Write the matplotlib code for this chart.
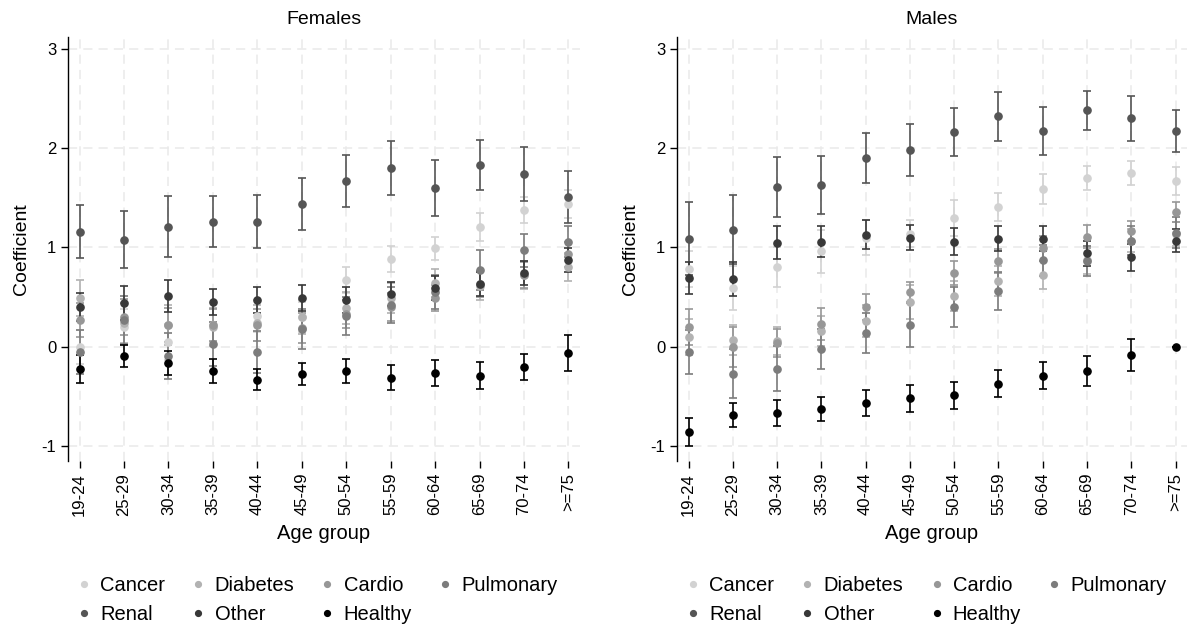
import numpy as np
import matplotlib
matplotlib.use("Agg")
import matplotlib.pyplot as plt

plt.rcParams['font.family'] = ['Liberation Sans', 'DejaVu Sans']

age_groups = ["19-24", "25-29", "30-34", "35-39", "40-44", "45-49",
              "50-54", "55-59", "60-64", "65-69", "70-74", ">=75"]
series_names = ["Cancer", "Diabetes", "Cardio", "Pulmonary", "Renal", "Other", "Healthy"]
series_colors = ["#d2d2d2", "#b2b2b2", "#979797", "#7c7c7c", "#555555", "#383838", "#000000"]

# Females: coefficients and CI half-widths
f_cancer = [0.00, 0.20, 0.05, 0.22, 0.31, 0.30, 0.67, 0.88, 0.99, 1.21, 1.38, 1.44]
f_diabetes = [0.49, 0.24, 0.22, 0.20, 0.24, 0.30, 0.39, 0.49, 0.64, 0.61, 0.72, 0.80]
f_cardio = [0.27, 0.30, 0.22, 0.22, 0.22, 0.19, 0.33, 0.40, 0.49, 0.63, 0.72, 0.93]
f_pulmonary = [-0.05, 0.27, -0.09, 0.03, -0.05, 0.18, 0.31, 0.42, 0.55, 0.77, 0.97, 1.06]
f_renal = [1.16, 1.08, 1.21, 1.26, 1.26, 1.44, 1.67, 1.80, 1.60, 1.83, 1.74, 1.51]
f_other = [0.40, 0.44, 0.51, 0.45, 0.47, 0.49, 0.47, 0.53, 0.59, 0.63, 0.74, 0.87]
f_healthy = [-0.22, -0.09, -0.16, -0.24, -0.33, -0.27, -0.24, -0.31, -0.26, -0.29, -0.20, -0.06]

f_cancer_err = [0.17, 0.18, 0.18, 0.17, 0.16, 0.15, 0.13, 0.13, 0.12, 0.14, 0.13, 0.14]
f_diabetes_err = [0.18, 0.20, 0.20, 0.19, 0.18, 0.17, 0.16, 0.15, 0.14, 0.14, 0.14, 0.14]
f_cardio_err = [0.17, 0.18, 0.17, 0.16, 0.16, 0.15, 0.14, 0.14, 0.13, 0.13, 0.13, 0.13]
f_pulmonary_err = [0.22, 0.24, 0.23, 0.22, 0.21, 0.20, 0.19, 0.18, 0.17, 0.20, 0.17, 0.16]
f_renal_err = [0.27, 0.29, 0.31, 0.26, 0.27, 0.26, 0.26, 0.27, 0.28, 0.25, 0.27, 0.26]
f_other_err = [0.14, 0.17, 0.16, 0.13, 0.13, 0.13, 0.13, 0.12, 0.12, 0.12, 0.12, 0.12]
f_healthy_err = [0.14, 0.11, 0.12, 0.12, 0.11, 0.11, 0.12, 0.13, 0.13, 0.14, 0.13, 0.18]

# Males: coefficients and CI half-widths
m_cancer = [0.78, 0.59, 0.80, 0.96, 1.10, 1.14, 1.30, 1.41, 1.59, 1.70, 1.75, 1.67]
m_diabetes = [0.10, 0.07, 0.06, 0.16, 0.26, 0.45, 0.51, 0.66, 0.72, 0.87, 1.07, 1.14]
m_cardio = [0.20, 0.00, 0.04, 0.23, 0.40, 0.55, 0.74, 0.86, 0.99, 1.11, 1.17, 1.36]
m_pulmonary = [-0.05, -0.27, -0.22, -0.02, 0.14, 0.22, 0.40, 0.56, 0.87, 0.86, 1.07, 1.15]
m_renal = [1.09, 1.18, 1.61, 1.63, 1.90, 1.98, 2.16, 2.32, 2.17, 2.38, 2.30, 2.17]
m_other = [0.69, 0.68, 1.05, 1.06, 1.13, 1.10, 1.06, 1.09, 1.09, 0.94, 0.90, 1.07]
m_healthy = [-0.86, -0.69, -0.67, -0.63, -0.57, -0.52, -0.49, -0.37, -0.29, -0.24, -0.08, 0.00]

m_cancer_err = [0.18, 0.22, 0.20, 0.22, 0.18, 0.14, 0.18, 0.14, 0.15, 0.12, 0.12, 0.14]
m_diabetes_err = [0.18, 0.15, 0.14, 0.15, 0.16, 0.17, 0.15, 0.15, 0.14, 0.14, 0.12, 0.12]
m_cardio_err = [0.18, 0.20, 0.14, 0.16, 0.13, 0.10, 0.12, 0.12, 0.13, 0.12, 0.10, 0.10]
m_pulmonary_err = [0.22, 0.25, 0.23, 0.20, 0.20, 0.22, 0.20, 0.19, 0.16, 0.15, 0.15, 0.16]
m_renal_err = [0.37, 0.35, 0.30, 0.29, 0.25, 0.26, 0.24, 0.25, 0.24, 0.20, 0.23, 0.21]
m_other_err = [0.16, 0.17, 0.17, 0.16, 0.15, 0.13, 0.14, 0.13, 0.13, 0.13, 0.14, 0.12]
m_healthy_err = [0.14, 0.12, 0.13, 0.12, 0.13, 0.14, 0.14, 0.14, 0.14, 0.15, 0.16, 0.00]

females = [f_cancer, f_diabetes, f_cardio, f_pulmonary, f_renal, f_other, f_healthy]
females_err = [f_cancer_err, f_diabetes_err, f_cardio_err, f_pulmonary_err,
               f_renal_err, f_other_err, f_healthy_err]
males = [m_cancer, m_diabetes, m_cardio, m_pulmonary, m_renal, m_other, m_healthy]
males_err = [m_cancer_err, m_diabetes_err, m_cardio_err, m_pulmonary_err,
             m_renal_err, m_other_err, m_healthy_err]

fig = plt.figure(figsize=(11.9, 6.27), dpi=100)
ax_f = fig.add_axes([0.0571, 0.2648, 0.4303, 0.6762])
ax_m = fig.add_axes([0.5689, 0.2648, 0.4286, 0.6762])

x = np.arange(len(age_groups))


def draw_panel(ax, data, errs, title):
    handles = []
    for vals, err, col, name in zip(data, errs, series_colors, series_names):
        ax.errorbar(x, vals, yerr=err, fmt="none", ecolor=col, elinewidth=1.2,
                    capsize=2.6, capthick=1.2, zorder=3)
        h, = ax.plot(x, vals, "o", color=col, markersize=5.2, zorder=4,
                     linestyle="none", label=name)
        handles.append(h)
    ax.set_xlim(-0.26, 11.26)
    ax.set_ylim(-1.15, 3.12)
    ax.set_yticks([-1, 0, 1, 2, 3])
    ax.set_yticklabels(["-1", "0", "1", "2", "3"])
    ax.set_xticks(x)
    ax.set_xticklabels(age_groups, rotation=90)
    ax.grid(True, color="#eaeaea", linestyle=(0, (6, 4)), linewidth=1.1, zorder=0)
    ax.set_axisbelow(True)
    for s in ["top", "right", "bottom"]:
        ax.spines[s].set_visible(False)
    ax.spines["left"].set_linewidth(1.0)
    ax.tick_params(axis="y", labelsize=12, length=5, width=1.0)
    ax.tick_params(axis="x", labelsize=12, length=5, width=1.0, color="#000000")
    ax.set_xlabel("Age group", fontsize=14.5, labelpad=6)
    ax.set_ylabel("Coefficient", fontsize=14, labelpad=8)
    ax.set_title(title, fontsize=14, pad=9)
    # legend filled row by row: reorder for column-major fill
    order = [0, 4, 1, 5, 2, 6, 3]
    ax.legend([handles[i] for i in order], [series_names[i] for i in order],
              loc="upper left", bbox_to_anchor=(0.0, -0.252), ncol=4, frameon=False,
              fontsize=14.5, markerscale=0.8, handlelength=0.8, handletextpad=0.4,
              columnspacing=1.25, labelspacing=0.5, borderaxespad=0.0)


draw_panel(ax_f, females, females_err, "Females")
draw_panel(ax_m, males, males_err, "Males")

fig.savefig("out.png", dpi=100, facecolor="white")
